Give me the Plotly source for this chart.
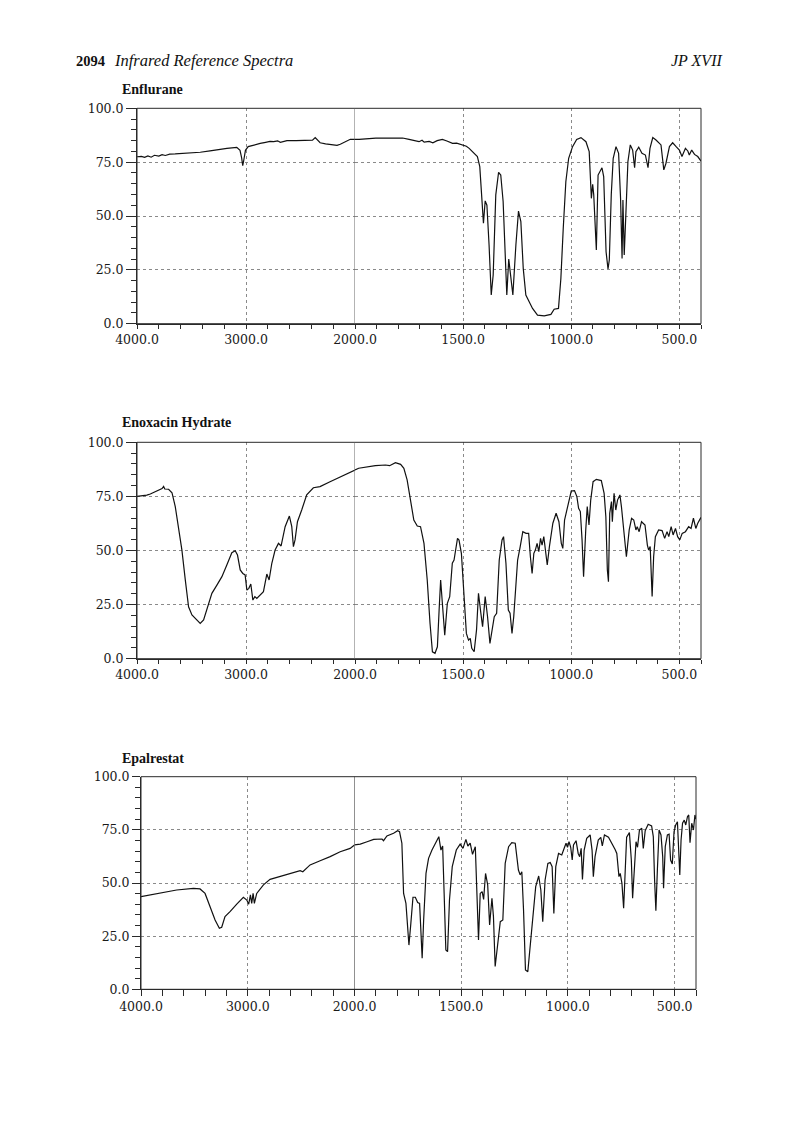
import plotly.graph_objects as go

W, H = 800, 1122

# ---------------- data (wavenumber cm-1, transmittance %) ----------------
enflurane_wn = [4000, 3960, 3930, 3900, 3870, 3840, 3800, 3770, 3740, 3700, 3650, 3550, 3420, 3330,
                3250, 3175, 3085, 3055, 3040, 3030, 3020, 3005, 2980, 2940, 2870, 2820, 2780, 2746,
                2710, 2685, 2650, 2624, 2540, 2440, 2390, 2365, 2350, 2320, 2270, 2196, 2165, 2135,
                2090, 2043, 2000,
                1981, 1904, 1827, 1780, 1750, 1725, 1704, 1690, 1680, 1657, 1640, 1620, 1596, 1575,
                1549, 1530, 1503, 1485, 1472, 1449, 1434, 1423, 1414, 1406, 1398, 1390, 1380, 1370,
                1361, 1349, 1336, 1326, 1315, 1307, 1298, 1289, 1279, 1270, 1256, 1244, 1233, 1222,
                1210, 1194, 1179, 1156, 1125, 1094, 1079, 1059, 1048, 1037, 1025, 1012, 994, 975,
                955, 932, 917, 907, 901, 896, 892, 884, 876, 867, 858, 850, 839, 830, 824, 815, 806,
                793, 781, 772, 765, 761, 755, 747, 738, 727, 716, 707, 701, 688, 673, 657, 645, 636,
                623, 608, 585, 572, 562, 546, 531, 515, 500, 488, 472, 461, 454, 443, 430, 415, 400]
enflurane_t = [77.5, 77.7, 77.2, 77.9, 77.3, 78.2, 77.8, 78.5, 78.1, 78.7, 78.8, 79.1, 79.6, 80.2,
               80.9, 81.4, 81.9, 80.5, 77.0, 73.4, 76.0, 80.5, 82.2, 82.8, 83.7, 84.2, 84.6, 84.5,
               84.9, 84.2, 84.6, 85.0, 85.0, 85.1, 85.2, 86.4, 85.5, 84.0, 83.5, 83.0, 82.8, 83.3,
               84.5, 85.6, 85.6,
               85.6, 86.2, 86.4, 86.2, 85.6, 85.0, 84.5, 85.2, 84.3, 84.6, 84.0, 85.0, 85.6, 84.8,
               83.7, 83.8, 83.0, 82.4, 81.4, 79.1, 77.6, 72.9, 59.8, 46.6, 57.0, 55.0, 36.5, 13.3,
               22.6, 59.8, 70.3, 69.0, 56.7, 36.5, 13.3, 30.0, 19.5, 13.3, 36.5, 52.3, 47.4, 25.7,
               13.3, 10.2, 7.1, 4.0, 3.6, 4.3, 6.7, 7.1, 21.0, 44.3, 65.9, 76.8, 82.2, 85.5,
               86.4, 84.5, 79.9, 58.2, 64.7, 59.8, 52.0, 34.2, 69.0, 70.6, 72.4, 68.3, 33.4, 25.4,
               29.6, 59.8, 76.8, 82.2, 79.1, 58.2, 30.3, 57.4, 31.9, 52.0, 75.2, 83.0, 80.6, 72.4,
               79.9, 81.9, 79.1, 78.3, 72.4, 81.4, 86.4, 85.3, 83.0, 71.4, 74.5, 82.2, 84.0, 82.2,
               80.6, 77.6, 81.4, 80.2, 78.3, 80.6, 78.6, 77.6, 75.5]

enoxacin_wn = [4000, 3970, 3939, 3910, 3878, 3850, 3817, 3790, 3770, 3756, 3745, 3710, 3679, 3649,
               3618, 3588, 3557, 3527, 3496, 3450, 3420, 3389, 3359, 3313, 3267, 3221, 3176, 3130,
               3099, 3078, 3053, 3029, 3008, 2992, 2974, 2956, 2937, 2919, 2901, 2870, 2840, 2809,
               2788, 2763, 2733, 2702, 2678, 2641, 2602, 2580, 2565, 2550, 2528, 2489, 2443, 2382,
               2321, 2229, 2137, 2060, 2000,
               1983, 1906, 1859, 1840, 1813, 1789, 1774, 1759, 1743, 1728, 1712, 1697, 1681, 1666,
               1653, 1642, 1630, 1619, 1611, 1604, 1596, 1585, 1573, 1562, 1550, 1542, 1526, 1519,
               1508, 1495, 1485, 1475, 1467, 1460, 1449, 1438, 1429, 1418, 1410, 1398, 1387, 1376,
               1367, 1356, 1345, 1333, 1320, 1313, 1302, 1291, 1283, 1274, 1266, 1259, 1248, 1236,
               1224, 1209, 1197, 1189, 1181, 1173, 1166, 1158, 1150, 1142, 1135, 1127, 1119, 1111,
               1101, 1085, 1070, 1057, 1046, 1039, 1031, 1015, 1000, 985, 974, 966, 958, 950, 943,
               933, 926, 918, 910, 899, 884, 861, 848, 840, 833, 828, 822, 814, 810, 802, 794, 786,
               775, 768, 755, 745, 732, 721, 711, 701, 695, 686, 675, 659, 648, 642, 635, 626, 619,
               611, 596, 580, 568, 557, 549, 538, 529, 518, 508, 498, 487, 472, 457, 446, 435, 424,
               415, 400]
enoxacin_t = [75.0, 75.1, 75.2, 75.6, 76.1, 76.8, 77.5, 78.0, 78.6, 79.6, 78.4, 78.3, 76.7, 70.3,
              61.0, 50.2, 36.4, 24.0, 20.2, 17.9, 16.3, 17.9, 22.5, 30.2, 34.0, 37.9, 43.3, 49.0,
              49.9, 47.9, 41.0, 39.4, 38.7, 31.7, 32.5, 34.5, 27.1, 28.7, 27.9, 29.4, 31.0, 39.1,
              36.4, 44.1, 50.2, 53.3, 52.1, 61.0, 65.9, 61.0, 51.8, 54.9, 63.3, 68.7, 75.7, 79.0,
              79.5, 81.8, 84.1, 86.0, 87.2,
              88.0, 89.2, 89.5, 89.2, 90.6, 89.8, 88.0, 82.6, 73.3, 64.1, 61.3, 61.0, 53.3, 36.4,
              16.3, 3.2, 2.5, 5.5, 22.5, 36.4, 25.6, 10.9, 25.6, 28.7, 44.1, 45.6, 55.6, 54.8,
              48.7, 25.6, 11.7, 8.6, 9.4, 4.8, 3.2, 13.3, 30.2, 21.0, 14.8, 28.7, 19.4, 7.1,
              13.3, 19.4, 21.0, 45.6, 54.9, 56.4, 44.1, 22.5, 21.0, 11.7, 19.4, 31.7, 45.6, 51.8,
              58.7, 57.9, 57.9, 47.1, 39.4, 48.7, 50.2, 53.3, 49.5, 55.6, 52.5, 56.4, 50.2, 43.3,
              51.8, 62.6, 67.2, 63.3, 53.3, 51.0, 64.1, 71.8, 77.5, 77.7, 74.9, 69.5, 68.0, 54.9,
              37.9, 59.5, 70.3, 61.8, 73.3, 81.8, 82.9, 82.3, 76.4, 65.6, 41.0, 35.6, 67.2, 72.6,
              63.3, 76.4, 68.7, 73.3, 75.7, 70.3, 57.9, 47.1, 59.5, 64.9, 64.1, 59.5, 61.0, 58.7,
              63.3, 61.8, 52.5, 50.2, 51.8, 28.7, 47.1, 56.4, 59.5, 59.2, 55.6, 58.7, 56.4, 61.0,
              57.2, 60.2, 56.4, 54.9, 57.9, 58.7, 61.0, 60.2, 64.9, 60.2, 62.6, 65.3]

epalrestat_wn = [4000, 3822, 3666, 3509, 3447, 3400, 3353, 3306, 3266, 3244, 3213, 3166, 3103, 3041,
                 3009, 2991, 2975, 2963, 2950, 2938, 2916, 2853, 2791, 2697, 2603, 2509, 2484, 2416,
                 2322, 2228, 2134, 2041, 2000,
                 1973, 1941, 1910, 1871, 1864, 1848, 1817, 1798, 1789, 1778, 1770, 1759, 1751, 1745,
                 1736, 1726, 1715, 1704, 1695, 1689, 1683, 1676, 1665, 1653, 1637, 1617, 1605, 1595,
                 1587, 1580, 1572, 1564, 1555, 1542, 1523, 1505, 1492, 1478, 1469, 1458, 1447, 1434,
                 1427, 1419, 1411, 1402, 1395, 1386, 1376, 1367, 1356, 1349, 1341, 1330, 1317, 1305,
                 1294, 1278, 1263, 1247, 1232, 1224, 1216, 1208, 1199, 1188, 1177, 1165, 1151, 1137,
                 1127, 1118, 1107, 1094, 1083, 1074, 1066, 1057, 1044, 1029, 1018, 1009, 1002, 995,
                 987, 980, 974, 962, 952, 945, 938, 932, 924, 912, 896, 887, 881, 873, 858, 846, 839,
                 829, 810, 795, 779, 771, 761, 755, 747, 739, 731, 725, 712, 703, 697, 689, 681, 674,
                 665, 654, 647, 638, 624, 608, 600, 594, 588, 581, 573, 564, 556, 552, 544, 534, 526,
                 519, 511, 503, 495, 487, 481, 476, 470, 463, 455, 448, 440, 434, 428, 420, 412, 405,
                 400]
epalrestat_t = [43.6, 45.1, 46.7, 47.5, 47.2, 45.1, 38.9, 32.6, 28.7, 29.2, 34.2, 36.5, 40.1, 43.3,
                42.0, 40.0, 44.4, 40.4, 45.1, 40.4, 45.1, 49.1, 51.7, 53.0, 54.5, 55.8, 55.3, 58.5,
                60.5, 62.4, 64.7, 66.3, 67.9,
                68.3, 69.4, 70.5, 70.7, 69.9, 72.1, 73.4, 74.6, 74.1, 68.7, 45.1, 40.4, 26.3, 20.8,
                31.0, 43.3, 43.3, 40.8, 40.4, 26.3, 14.6, 32.6, 54.5, 61.6, 65.5, 69.4, 71.8, 65.5,
                67.4, 45.1, 18.5, 17.7, 42.0, 57.7, 65.5, 68.3, 66.3, 70.5, 67.4, 68.7, 63.5, 67.1,
                45.1, 23.2, 45.1, 45.9, 42.3, 54.5, 49.1, 30.3, 42.8, 34.2, 10.7, 20.1, 31.8, 32.6,
                59.2, 67.1, 69.0, 68.7, 56.1, 53.8, 55.3, 37.3, 9.1, 8.3, 20.1, 35.7, 48.3, 53.3,
                46.7, 31.8, 51.4, 59.2, 59.6, 57.7, 35.7, 57.7, 63.9, 63.2, 66.8, 68.7, 66.8, 69.4,
                66.8, 60.8, 67.9, 69.9, 63.9, 62.4, 66.3, 51.7, 65.5, 71.0, 72.6, 65.5, 53.0, 62.4,
                70.2, 71.5, 67.4, 72.6, 71.5, 69.0, 65.8, 63.9, 53.0, 54.5, 49.8, 38.1, 60.0, 71.5,
                73.7, 60.8, 42.8, 57.7, 69.4, 66.8, 74.9, 75.7, 66.3, 74.6, 77.6, 76.8, 71.8, 51.4,
                37.0, 56.1, 74.9, 72.6, 62.4, 47.5, 67.1, 72.6, 73.0, 60.8, 58.9, 74.1, 77.3, 78.8,
                67.1, 53.8, 70.2, 78.1, 79.6, 77.3, 81.2, 82.0, 69.0, 78.1, 74.9, 82.0, 80.0]

titles = ["Enflurane", "Enoxacin Hydrate", "Epalrestat"]
spectra = [(enflurane_wn, enflurane_t), (enoxacin_wn, enoxacin_t), (epalrestat_wn, epalrestat_t)]

y_tickvals = [0, 25, 50, 75, 100]
y_ticktext = ["0.0", "25.0", "50.0", "75.0", "100.0"]
x_hi_tickvals = [4000, 3000, 2000]
x_hi_ticktext = ["4000.0", "3000.0", "2000.0"]
x_lo_tickvals = [1500, 1000, 500]
x_lo_ticktext = ["1500.0", "1000.0", "500.0"]
x_hi_minor = [3800, 3600, 3400, 3200, 2800, 2600, 2400, 2200]
x_lo_minor = [1900, 1800, 1700, 1600, 1400, 1300, 1200, 1100, 900, 800, 700, 600, 400]
y_minor = [v for v in range(5, 100, 5) if v % 25]

# ---------------- layout geometry (pixels) ----------------
frames = [
    dict(left=137, mid=355, right=701, top=108.3, bottom=323.7, title_y=89, xlen=4, ylen=10, ymin=5,
         divider="#666666"),
    dict(left=137, mid=355, right=701, top=442.3, bottom=658.7, title_y=423, xlen=4, ylen=10, ymin=5,
         divider="#666666"),
    dict(left=141, mid=354.5, right=696, top=776.7, bottom=989.3, title_y=758, xlen=6, ylen=8, ymin=5,
         divider="#222222"),
]


def fx(p):
    return p / W


def fy(p):
    return 1 - p / H


AX = "#2a2a2a"
GRID = "#8a8a8a"
TICKFONT = dict(family="DejaVu Serif", size=12.5, color="#1a1a1a")

fig = go.Figure()
layout = dict(template="none", width=W, height=H, autosize=False,
              margin=dict(l=0, r=0, t=0, b=0, pad=0, autoexpand=False),
              paper_bgcolor="white", plot_bgcolor="white", showlegend=False)
shapes = []
annotations = []

for i, ((wn, t), fr, title) in enumerate(zip(spectra, frames, titles)):
    xa, xb, ya = 2 * i + 1, 2 * i + 2, i + 1
    xa_id = "x" if xa == 1 else f"x{xa}"
    xb_id = f"x{xb}"
    ya_id = "y" if ya == 1 else f"y{ya}"
    xa_key = "xaxis" if xa == 1 else f"xaxis{xa}"
    xb_key = f"xaxis{xb}"
    ya_key = "yaxis" if ya == 1 else f"yaxis{ya}"

    hi = [(w, v) for w, v in zip(wn, t) if w >= 2000]
    lo = [(w, v) for w, v in zip(wn, t) if w <= 2000]
    line = dict(color="#111111", width=1.2)
    fig.add_trace(go.Scatter(x=[p[0] for p in hi], y=[p[1] for p in hi], mode="lines",
                             line=line, xaxis=xa_id, yaxis=ya_id, hoverinfo="skip"))
    fig.add_trace(go.Scatter(x=[p[0] for p in lo], y=[p[1] for p in lo], mode="lines",
                             line=line, xaxis=xb_id, yaxis=ya_id, hoverinfo="skip"))

    common_x = dict(anchor=ya_id, tickmode="array", ticks="outside", ticklen=fr["xlen"],
                    tickcolor=AX, tickwidth=1, showline=True, linecolor=AX, linewidth=1,
                    showgrid=True, gridcolor=GRID, griddash="dot", gridwidth=1, zeroline=False,
                    tickfont=TICKFONT, fixedrange=True, automargin=False)
    layout[xa_key] = dict(common_x, domain=[fx(fr["left"]), fx(fr["mid"])], range=[4000, 2000],
                          tickvals=x_hi_tickvals, ticktext=x_hi_ticktext,
                          minor=dict(tickmode="array", tickvals=x_hi_minor, ticks="outside",
                                     ticklen=fr["xlen"], tickcolor=AX, showgrid=False))
    layout[xb_key] = dict(common_x, domain=[fx(fr["mid"]), fx(fr["right"])], range=[2000, 400],
                          tickvals=x_lo_tickvals, ticktext=x_lo_ticktext,
                          minor=dict(tickmode="array", tickvals=x_lo_minor, ticks="outside",
                                     ticklen=fr["xlen"], tickcolor=AX, showgrid=False))
    layout[ya_key] = dict(anchor=xa_id, domain=[fy(fr["bottom"]), fy(fr["top"])], range=[0, 100],
                          tickmode="array", tickvals=y_tickvals, ticktext=y_ticktext,
                          ticks="outside", ticklen=fr["ylen"], tickcolor=AX, tickwidth=1,
                          showline=True, linecolor=AX, linewidth=1,
                          showgrid=True, gridcolor=GRID, griddash="dot", gridwidth=1,
                          zeroline=False, tickfont=TICKFONT, fixedrange=True, automargin=False,
                          minor=dict(tickmode="array", tickvals=y_minor, ticks="outside",
                                     ticklen=fr["ymin"], tickcolor=AX, showgrid=False))

    # frame
    shapes.append(dict(type="rect", xref="paper", yref="paper",
                       x0=fx(fr["left"]), x1=fx(fr["right"]), y0=fy(fr["bottom"]), y1=fy(fr["top"]),
                       line=dict(color=AX, width=1), fillcolor="rgba(0,0,0,0)", layer="above"))
    # solid divider at 2000 cm-1
    shapes.append(dict(type="line", xref=xa_id, yref=f"{ya_id} domain", x0=2000, x1=2000, y0=0, y1=1,
                       line=dict(color=fr["divider"], width=1), layer="above"))

    annotations.append(dict(text=f"<b>{title}</b>", xref="paper", yref="paper",
                            x=fx(120), y=fy(fr["title_y"]), xanchor="left", yanchor="middle",
                            showarrow=False,
                            font=dict(family="Liberation Serif", size=14, color="#111")))

# page header
annotations.append(dict(text="<b>2094</b>", xref="paper", yref="paper", x=fx(74), y=fy(61),
                        xanchor="left", yanchor="middle", showarrow=False,
                        font=dict(family="Liberation Serif", size=14.5, color="#111")))
annotations.append(dict(text="<i>Infrared Reference Spectra</i>", xref="paper", yref="paper",
                        x=fx(112), y=fy(61), xanchor="left", yanchor="middle", showarrow=False,
                        font=dict(family="Liberation Serif", size=16.5, color="#111")))
annotations.append(dict(text="<i>JP XVII</i>", xref="paper", yref="paper", x=fx(724), y=fy(61),
                        xanchor="right", yanchor="middle", showarrow=False,
                        font=dict(family="Liberation Serif", size=16, color="#111")))

layout["shapes"] = shapes
layout["annotations"] = annotations
fig.update_layout(**layout)
fig.write_html("out.html", config={"responsive": False, "displayModeBar": False})
